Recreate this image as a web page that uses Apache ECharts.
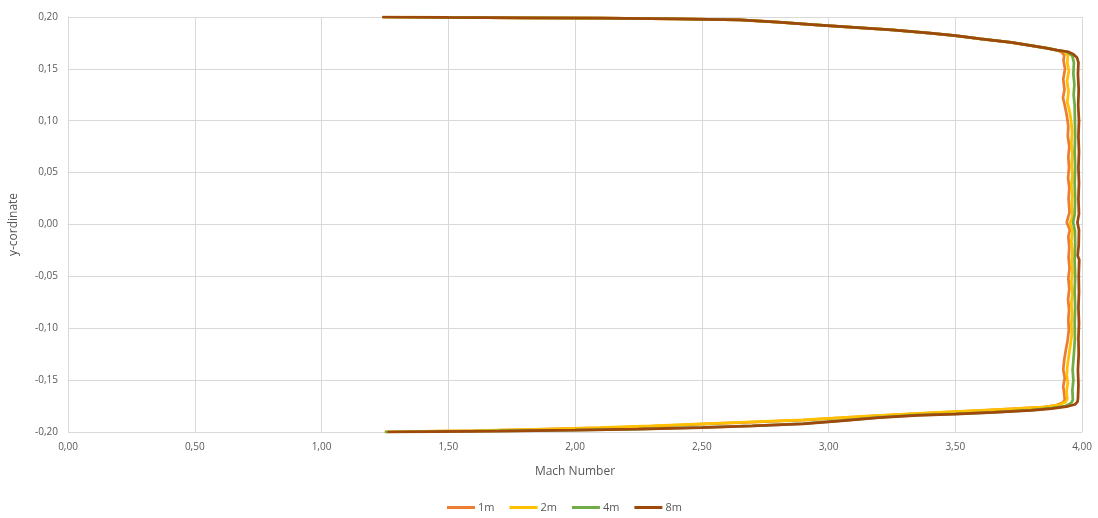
<!DOCTYPE html>
<html>
<head>
<meta charset="utf-8">
<title>Mach Number profile</title>
<script src="https://cdn.jsdelivr.net/npm/echarts@6/dist/echarts.min.js"></script>
<style>
  html, body { margin: 0; padding: 0; background: #ffffff; }
  #chart { width: 1098px; height: 518px; }
</style>
</head>
<body>
<div id="chart"></div>
<script>
// Mach number profiles across the channel, [mach, y] pairs ordered from top wall to bottom wall
const seriesNames = ['1m', '2m', '4m', '8m'];
const seriesColors = ['#ED7D31', '#FFC000', '#70AD47', '#9E480E'];

// upper wall boundary layer, common to all stations
const topBranch = [
  [1.24, 0.2000], [1.50, 0.1996], [1.80, 0.1992], [2.10, 0.1988], [2.40, 0.1982],
  [2.65, 0.1972], [2.80, 0.1950], [2.95, 0.1925], [3.10, 0.1900], [3.25, 0.1875],
  [3.40, 0.1845], [3.50, 0.1820], [3.60, 0.1790], [3.72, 0.1755], [3.80, 0.1725],
  [3.86, 0.1700], [3.90, 0.1680]
];

const core1m = [
  [3.920, 0.1660], [3.930, 0.1630], [3.927, 0.1580], [3.933, 0.1500], [3.926, 0.1400],
  [3.931, 0.1300], [3.925, 0.1220], [3.932, 0.1150], [3.940, 0.1050], [3.946, 0.0950],
  [3.944, 0.0850], [3.950, 0.0750], [3.946, 0.0650], [3.949, 0.0550], [3.945, 0.0450],
  [3.950, 0.0350], [3.947, 0.0250], [3.951, 0.0120], [3.940, 0.0020], [3.952, -0.0050],
  [3.946, -0.0120], [3.950, -0.0220], [3.947, -0.0320], [3.951, -0.0420], [3.946, -0.0520],
  [3.950, -0.0620], [3.945, -0.0720], [3.949, -0.0820], [3.946, -0.0920], [3.948, -0.1020],
  [3.943, -0.1120], [3.937, -0.1200], [3.930, -0.1300], [3.926, -0.1400], [3.932, -0.1480],
  [3.926, -0.1560], [3.930, -0.1640], [3.932, -0.1690]
];
const core2m = [
  [3.930, 0.1665], [3.945, 0.1630], [3.942, 0.1560], [3.948, 0.1480], [3.941, 0.1380],
  [3.947, 0.1280], [3.942, 0.1180], [3.952, 0.1080], [3.958, 0.0980], [3.961, 0.0880],
  [3.958, 0.0780], [3.962, 0.0680], [3.959, 0.0580], [3.962, 0.0480], [3.958, 0.0380],
  [3.962, 0.0280], [3.959, 0.0180], [3.962, 0.0080], [3.953, 0.0010], [3.962, -0.0060],
  [3.958, -0.0160], [3.962, -0.0260], [3.959, -0.0360], [3.962, -0.0460], [3.958, -0.0560],
  [3.962, -0.0660], [3.958, -0.0760], [3.961, -0.0860], [3.958, -0.0960], [3.960, -0.1060],
  [3.955, -0.1150], [3.949, -0.1250], [3.943, -0.1350], [3.940, -0.1450], [3.944, -0.1530],
  [3.939, -0.1610], [3.942, -0.1680]
];
const core4m = [
  [3.940, 0.1665], [3.962, 0.1625], [3.968, 0.1560], [3.966, 0.1450], [3.970, 0.1350],
  [3.967, 0.1250], [3.971, 0.1150], [3.972, 0.1000], [3.973, 0.0850], [3.971, 0.0700],
  [3.973, 0.0550], [3.971, 0.0400], [3.973, 0.0250], [3.971, 0.0100], [3.965, 0.0020],
  [3.972, -0.0060], [3.973, -0.0200], [3.971, -0.0350], [3.973, -0.0500], [3.971, -0.0650],
  [3.973, -0.0800], [3.971, -0.0950], [3.972, -0.1100], [3.968, -0.1250], [3.963, -0.1400],
  [3.966, -0.1500], [3.962, -0.1600], [3.964, -0.1690]
];
const core8m = [
  [3.945, 0.1665], [3.966, 0.1640], [3.980, 0.1610], [3.986, 0.1560], [3.984, 0.1450],
  [3.987, 0.1300], [3.985, 0.1150], [3.988, 0.1000], [3.986, 0.0850], [3.988, 0.0700],
  [3.986, 0.0550], [3.988, 0.0400], [3.986, 0.0250], [3.988, 0.0100], [3.982, 0.0020],
  [3.988, -0.0050], [3.987, -0.0200], [3.983, -0.0300], [3.989, -0.0340], [3.987, -0.0500],
  [3.988, -0.0650], [3.986, -0.0800], [3.988, -0.0950], [3.986, -0.1100], [3.987, -0.1250],
  [3.984, -0.1400], [3.986, -0.1550], [3.984, -0.1680]
];

// lower wall boundary layer
const bottom1m = [
  [3.925, -0.1715], [3.900, -0.1740], [3.850, -0.1760], [3.700, -0.1780], [3.600, -0.1795],
  [3.450, -0.1812], [3.300, -0.1830], [3.150, -0.1850], [3.000, -0.1870], [2.900, -0.1885],
  [2.700, -0.1905], [2.500, -0.1925], [2.300, -0.1945], [2.100, -0.1960], [1.850, -0.1975],
  [1.600, -0.1988], [1.400, -0.1995], [1.250, -0.2000]
];
const bottom2m = [
  [3.935, -0.1712], [3.912, -0.1735], [3.860, -0.1757], [3.720, -0.1777], [3.600, -0.1792],
  [3.450, -0.1809], [3.300, -0.1828], [3.150, -0.1848], [3.000, -0.1868], [2.900, -0.1882],
  [2.700, -0.1902], [2.500, -0.1922], [2.300, -0.1942], [2.100, -0.1958], [1.850, -0.1974],
  [1.600, -0.1987], [1.400, -0.1995], [1.250, -0.2000]
];
const bottom4m = [
  [3.958, -0.1720], [3.935, -0.1750], [3.880, -0.1770], [3.800, -0.1790], [3.650, -0.1810],
  [3.500, -0.1826], [3.350, -0.1838], [3.200, -0.1860], [3.050, -0.1890], [2.900, -0.1920],
  [2.700, -0.1940], [2.500, -0.1955], [2.250, -0.1972], [2.000, -0.1982], [1.700, -0.1990],
  [1.450, -0.1996], [1.250, -0.2000]
];
const bottom8m = [
  [3.982, -0.1710], [3.972, -0.1735], [3.945, -0.1752], [3.880, -0.1775], [3.800, -0.1792],
  [3.650, -0.1812], [3.500, -0.1828], [3.350, -0.1840], [3.200, -0.1862], [3.050, -0.1892],
  [2.900, -0.1922], [2.700, -0.1942], [2.500, -0.1957], [2.250, -0.1973], [2.000, -0.1983],
  [1.700, -0.1991], [1.450, -0.1996], [1.260, -0.2000]
];

const profiles = [
  topBranch.concat(core1m, bottom1m),
  topBranch.concat(core2m, bottom2m),
  topBranch.concat(core4m, bottom4m),
  topBranch.concat(core8m, bottom8m)
];

const fmt = v => v.toFixed(2).replace('.', ',');
const textColor = '#595959';
const gridColor = '#d9d9d9';
const font = 'Open Sans';

const chart = echarts.init(document.getElementById('chart'), null, { renderer: 'canvas' });
chart.setOption({
  animation: false,
  backgroundColor: '#ffffff',
  textStyle: { fontFamily: font },
  grid: { left: 68, right: 16, top: 17, bottom: 86, containLabel: false },
  legend: {
    top: 502,
    left: 447,
    icon: 'rect',
    itemWidth: 28,
    itemHeight: 3,
    itemGap: 15,
    padding: 0,
    textStyle: { color: textColor, fontSize: 11, fontFamily: font, padding: [0, 0, 0, -2] },
    data: seriesNames
  },
  xAxis: {
    type: 'value',
    min: 0,
    max: 4,
    interval: 0.5,
    name: 'Mach Number',
    nameLocation: 'middle',
    nameGap: 34,
    nameTextStyle: { color: textColor, fontSize: 12, fontFamily: font },
    axisLine: { show: true, lineStyle: { color: gridColor, width: 1 } },
    axisTick: { show: false },
    axisLabel: { color: textColor, fontSize: 10, margin: 10, formatter: fmt },
    splitLine: { show: true, lineStyle: { color: gridColor, width: 1 } }
  },
  yAxis: {
    type: 'value',
    min: -0.2,
    max: 0.2,
    interval: 0.05,
    name: 'y-cordinate',
    nameLocation: 'middle',
    nameGap: 48,
    nameTextStyle: { color: textColor, fontSize: 12, fontFamily: font },
    axisLine: { show: true, lineStyle: { color: gridColor, width: 1 } },
    axisTick: { show: false },
    axisLabel: { color: textColor, fontSize: 10, margin: 10, formatter: fmt },
    splitLine: { show: true, lineStyle: { color: gridColor, width: 1 } }
  },
  series: seriesNames.map((name, i) => ({
    name: name,
    type: 'line',
    data: profiles[i],
    showSymbol: false,
    symbol: 'none',
    smooth: false,
    color: seriesColors[i],
    lineStyle: { color: seriesColors[i], width: 2.75 },
    z: 2 + i
  }))
});
</script>
</body>
</html>
